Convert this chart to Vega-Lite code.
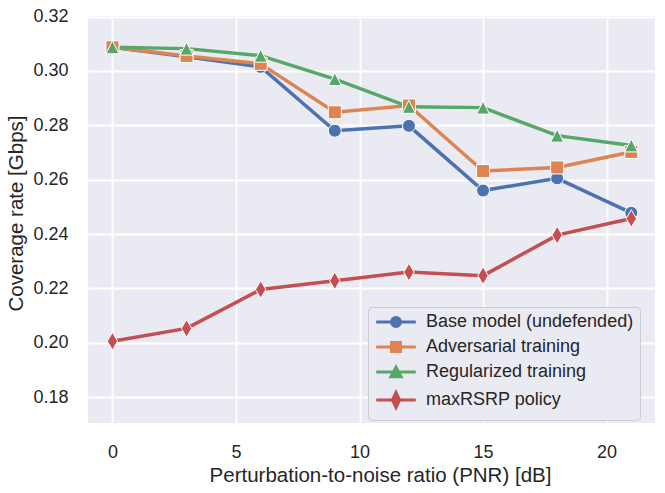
{
  "$schema": "https://vega.github.io/schema/vega-lite/v6.json",
  "width": 567,
  "height": 407,
  "autosize": {"type": "none"},
  "padding": {"left": 88, "top": 16, "right": 10, "bottom": 70},
  "background": "white",
  "config": {
    "view": {"fill": "#EAEAF2", "stroke": null},
    "font": "Liberation Sans",
    "axis": {
      "grid": true,
      "gridColor": "white",
      "gridWidth": 1.8,
      "domain": false,
      "ticks": false,
      "labelFont": "Liberation Sans",
      "labelFontSize": 18,
      "labelColor": "#262626",
      "titleFont": "Liberation Sans",
      "titleFontSize": 20.5,
      "titleFontWeight": "normal",
      "titleColor": "#262626"
    }
  },
  "data": {
    "values": [
      {"pnr": 0, "rate": 0.3087, "model": "Base model (undefended)"},
      {"pnr": 3, "rate": 0.3052, "model": "Base model (undefended)"},
      {"pnr": 6, "rate": 0.3015, "model": "Base model (undefended)"},
      {"pnr": 9, "rate": 0.2780, "model": "Base model (undefended)"},
      {"pnr": 12, "rate": 0.2798, "model": "Base model (undefended)"},
      {"pnr": 15, "rate": 0.2560, "model": "Base model (undefended)"},
      {"pnr": 18, "rate": 0.2605, "model": "Base model (undefended)"},
      {"pnr": 21, "rate": 0.2478, "model": "Base model (undefended)"},
      {"pnr": 0, "rate": 0.3087, "model": "Adversarial training"},
      {"pnr": 3, "rate": 0.3055, "model": "Adversarial training"},
      {"pnr": 6, "rate": 0.3026, "model": "Adversarial training"},
      {"pnr": 9, "rate": 0.2848, "model": "Adversarial training"},
      {"pnr": 12, "rate": 0.2873, "model": "Adversarial training"},
      {"pnr": 15, "rate": 0.2632, "model": "Adversarial training"},
      {"pnr": 18, "rate": 0.2645, "model": "Adversarial training"},
      {"pnr": 21, "rate": 0.2702, "model": "Adversarial training"},
      {"pnr": 0, "rate": 0.3087, "model": "Regularized training"},
      {"pnr": 3, "rate": 0.3082, "model": "Regularized training"},
      {"pnr": 6, "rate": 0.3056, "model": "Regularized training"},
      {"pnr": 9, "rate": 0.2970, "model": "Regularized training"},
      {"pnr": 12, "rate": 0.2868, "model": "Regularized training"},
      {"pnr": 15, "rate": 0.2865, "model": "Regularized training"},
      {"pnr": 18, "rate": 0.2762, "model": "Regularized training"},
      {"pnr": 21, "rate": 0.2726, "model": "Regularized training"},
      {"pnr": 0, "rate": 0.2006, "model": "maxRSRP policy"},
      {"pnr": 3, "rate": 0.2053, "model": "maxRSRP policy"},
      {"pnr": 6, "rate": 0.2196, "model": "maxRSRP policy"},
      {"pnr": 9, "rate": 0.2228, "model": "maxRSRP policy"},
      {"pnr": 12, "rate": 0.2260, "model": "maxRSRP policy"},
      {"pnr": 15, "rate": 0.2247, "model": "maxRSRP policy"},
      {"pnr": 18, "rate": 0.2396, "model": "maxRSRP policy"},
      {"pnr": 21, "rate": 0.2457, "model": "maxRSRP policy"}
    ]
  },
  "encoding": {
    "x": {
      "field": "pnr",
      "type": "quantitative",
      "title": "Perturbation-to-noise ratio (PNR) [dB]",
      "scale": {"domain": [-0.99, 21.96], "nice": false, "zero": false},
      "axis": {"values": [0, 5, 10, 15, 20], "labelPadding": 20, "titleX": 292, "titleY": 58, "titleBaseline": "alphabetic"}
    },
    "y": {
      "field": "rate",
      "type": "quantitative",
      "title": "Coverage rate [Gbps]",
      "scale": {"domain": [0.1705, 0.3202], "nice": false, "zero": false},
      "axis": {"values": [0.18, 0.2, 0.22, 0.24, 0.26, 0.28, 0.3, 0.32], "format": ".2f", "labelPadding": 20, "titleAngle": 270, "titleX": -72, "titleY": 197, "titleBaseline": "middle", "titleAlign": "center"}
    },
    "color": {
      "field": "model",
      "type": "nominal",
      "scale": {
        "domain": ["Base model (undefended)", "Adversarial training", "Regularized training", "maxRSRP policy"],
        "range": ["#4C72B0", "#DD8452", "#55A868", "#C44E52"]
      },
      "legend": {
        "title": null,
        "orient": "none",
        "legendX": 280,
        "legendY": 291,
        "fillColor": "#EAEAF2",
        "strokeColor": "#CCCCCC",
        "cornerRadius": 4,
        "padding": 6,
        "rowPadding": 3,
        "labelFont": "Liberation Sans",
        "labelFontSize": 18,
        "labelColor": "#262626",
        "labelLimit": 400,
        "symbolSize": 144,
        "symbolOffset": 13,
        "labelOffset": 21,
        "encode": {
          "symbols": {
            "update": {
              "shape": {"signal": "datum.value == 'Base model (undefended)' ? 'M-3.3,0H3.3M-0.75,0A0.75,0.75 0 1,0 0.75,0A0.75,0.75 0 1,0 -0.75,0Z' : datum.value == 'Adversarial training' ? 'M-3.3,0H3.3M-0.75,-0.75H0.75V0.75H-0.75Z' : datum.value == 'Regularized training' ? 'M-3.3,0H3.3M0,-0.8L0.85,0.8L-0.85,0.8Z' : 'M-3.3,0H3.3M0,-1.25L0.6,0L0,1.25L-0.6,0Z'"},
              "fill": {"signal": "scale('color', datum.value)"},
              "stroke": {"signal": "scale('color', datum.value)"},
              "strokeWidth": {"value": 3},
              "opacity": {"value": 1}
            }
          }
        }
      }
    }
  },
  "layer": [
    {
      "mark": {"type": "line", "strokeWidth": 3.5},
      "encoding": {}
    },
    {
      "transform": [{"filter": "datum.model == 'Base model (undefended)'"}],
      "mark": {"type": "point", "shape": "circle", "filled": true, "size": 169, "opacity": 1, "stroke": "white", "strokeWidth": 1}
    },
    {
      "transform": [{"filter": "datum.model == 'Adversarial training'"}],
      "mark": {"type": "point", "shape": "square", "filled": true, "size": 169, "opacity": 1, "stroke": "white", "strokeWidth": 1}
    },
    {
      "transform": [{"filter": "datum.model == 'Regularized training'"}],
      "mark": {"type": "point", "shape": "M0,-1L1,1L-1,1Z", "filled": true, "size": 169, "opacity": 1, "stroke": "white", "strokeWidth": 1}
    },
    {
      "transform": [{"filter": "datum.model == 'maxRSRP policy'"}],
      "mark": {"type": "point", "shape": "M0,-1.35L0.8,0L0,1.35L-0.8,0Z", "filled": true, "size": 169, "opacity": 1, "stroke": "white", "strokeWidth": 1}
    }
  ]
}
